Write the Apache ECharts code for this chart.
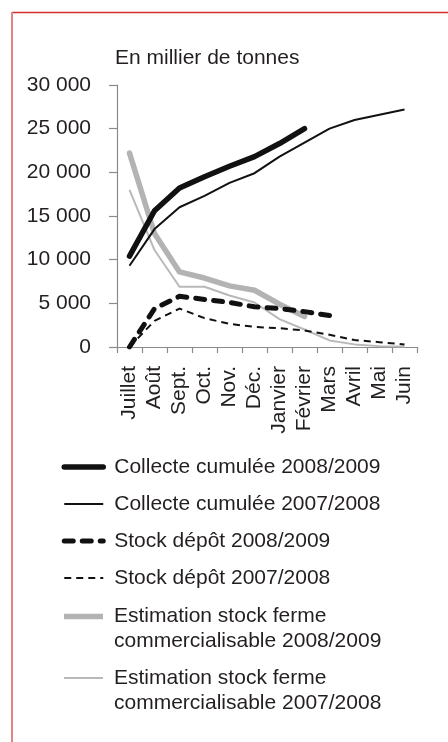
<!DOCTYPE html>
<html>
<head>
<meta charset="utf-8">
<script src="https://cdn.jsdelivr.net/npm/echarts@6/dist/echarts.min.js"></script>
<style>
  html, body { margin: 0; padding: 0; background: #ffffff; }
  #chart { width: 448px; height: 742px; }
</style>
</head>
<body>
<div id="chart"></div>
<script>
// Months of the marketing year (July to June)
const months = ['Juillet', 'Août', 'Sept.', 'Oct.', 'Nov.', 'Déc.', 'Janvier', 'Février', 'Mars', 'Avril', 'Mai', 'Juin'];

// Values in thousand tonnes
const collecte0809 = [10400, 15600, 18200, 19500, 20700, 21800, 23300, 25000, null, null, null, null];
const collecte0708 = [9300, 13500, 16000, 17300, 18800, 19900, 21800, 23400, 25000, 26000, 26600, 27200];
const stock0809 = [0, 4400, 5800, 5450, 5100, 4600, 4400, 4050, 3600, null, null, null];
const stock0708 = [0, 3000, 4400, 3300, 2650, 2300, 2150, 1900, 1400, 800, 550, 300];
const estim0809 = [22200, 13000, 8600, 7900, 7000, 6500, 4900, 3500, null, null, null, null];
const estim0708 = [18000, 11100, 6900, 6900, 5900, 5100, 3200, 2000, 750, 300, 100, 50];

// Y axis ticks
const yMin = 0, yMax = 30000, yStep = 5000;

const names = {
  c09: 'Collecte cumulée 2008/2009',
  c08: 'Collecte cumulée 2007/2008',
  s09: 'Stock dépôt 2008/2009',
  s08: 'Stock dépôt 2007/2008',
  e09: 'Estimation stock ferme\ncommercialisable 2008/2009',
  e08: 'Estimation stock ferme\ncommercialisable 2007/2008'
};

const ink = '#231f20';
const axisGray = '#8a8a8a';
const font = '"Liberation Sans", Arial, sans-serif';

const fmt = v => String(v).replace(/\B(?=(\d{3})+(?!\d))/g, ' ');

function line(name, data, style) {
  return {
    name: name,
    type: 'line',
    data: data,
    symbol: 'none',
    showSymbol: false,
    animation: false,
    lineStyle: Object.assign({ join: 'round' }, style),
    itemStyle: { color: style.color }
  };
}

// Shared legend settings
function legendBlock(left, top, items, extra) {
  return Object.assign({
    orient: 'vertical',
    left: left,
    top: top,
    height: 300,
    padding: 0,
    itemGap: 12,
    itemWidth: 39,
    itemHeight: 14,
    selectedMode: false,
    lineStyle: { width: 'inherit' },
    itemStyle: { opacity: 0 },
    textStyle: { fontFamily: font, fontSize: 21, lineHeight: 25, color: ink, padding: [0, 0, 0, 6] },
    data: items
  }, extra || {});
}

// Two-line entries: a 39x50 icon box whose stroke sits level with the first text line
// (tiny corner dots keep the path's bounds at the full box size)
function firstLineIcon(thickness) {
  const y0 = 12.5 - thickness / 2;
  return 'path://M0,0h0.01v0.01h-0.01z M0,' + y0 + 'h39v' + thickness + 'h-39z M38.99,49.99h0.01v0.01h-0.01z';
}

const chart = echarts.init(document.getElementById('chart'), null, { renderer: 'canvas' });

chart.setOption({
  animation: false,
  textStyle: { fontFamily: font, color: ink },
  graphic: [
    { type: 'line', shape: { x1: 12, y1: 12.5, x2: 448, y2: 12.5 }, style: { stroke: '#d42e2e', lineWidth: 1.5 } },
    { type: 'line', shape: { x1: 12, y1: 12, x2: 12, y2: 742 }, style: { stroke: '#df8585', lineWidth: 2 } }
  ],
  grid: { left: 117, right: 31, top: 85, bottom: 395, containLabel: false },
  legend: [
    legendBlock(61.5, 454.5, [names.c09, names.c08, names.s09, names.s08]),
    legendBlock(64, 604, [names.e09], {
      itemHeight: 50, icon: firstLineIcon(5.5),
      itemStyle: { opacity: 1, borderWidth: 0 }
    }),
    legendBlock(64, 665.5, [names.e08], {
      itemHeight: 50, icon: firstLineIcon(2),
      itemStyle: { opacity: 1, borderWidth: 0 }
    })
  ],
  xAxis: {
    type: 'category',
    data: months,
    boundaryGap: true,
    axisLine: { lineStyle: { color: axisGray, width: 1.2 } },
    axisTick: { show: true, length: 6, interval: 0, lineStyle: { color: axisGray, width: 1.2 } },
    axisLabel: { interval: 0, rotate: 90, margin: 19, fontSize: 21, color: ink, fontFamily: font },
    splitLine: { show: false }
  },
  yAxis: {
    type: 'value',
    min: yMin,
    max: yMax,
    interval: yStep,
    name: 'En millier de tonnes',
    nameLocation: 'end',
    nameGap: 16,
    nameTextStyle: { fontSize: 21, lineHeight: 21, color: ink, fontFamily: font, align: 'left', padding: [0, 0, 0, -2] },
    axisLine: { show: true, lineStyle: { color: axisGray, width: 1.2 } },
    axisTick: { show: true, length: 8, lineStyle: { color: axisGray, width: 1.2 } },
    axisLabel: { margin: 26, fontSize: 21, color: ink, fontFamily: font, formatter: fmt },
    splitLine: { show: false }
  },
  series: [
    line(names.e08, estim0708, { color: '#b9b9b9', width: 2, cap: 'butt' }),
    line(names.e09, estim0809, { color: '#b3b3b3', width: 5.5, cap: 'round' }),
    line(names.s08, stock0708, { color: '#111111', width: 2, type: [7, 5], cap: 'butt' }),
    line(names.s09, stock0809, { color: '#111111', width: 5, type: [9, 9], cap: 'round' }),
    line(names.c08, collecte0708, { color: '#111111', width: 2, cap: 'butt' }),
    line(names.c09, collecte0809, { color: '#111111', width: 5.5, cap: 'round' })
  ]
});
</script>
</body>
</html>
